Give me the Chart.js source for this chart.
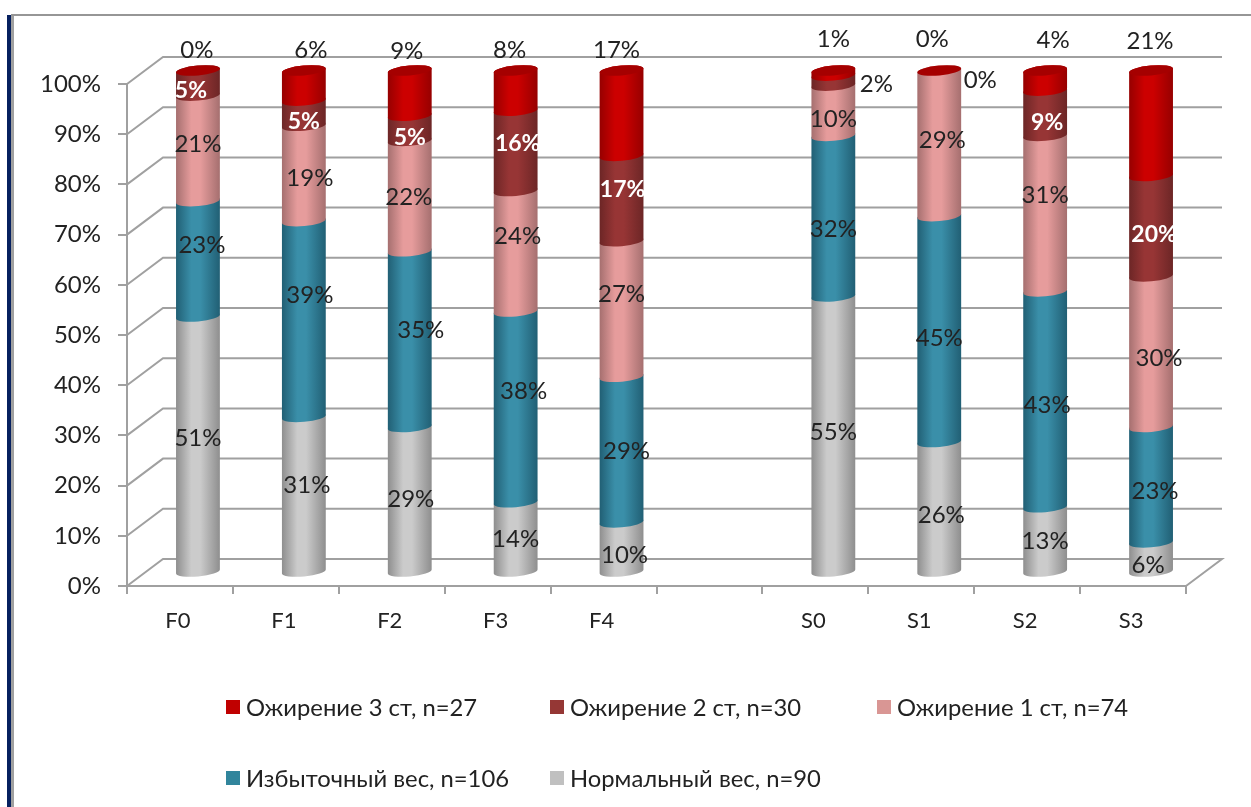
<!DOCTYPE html>
<html lang="ru">
<head>
<meta charset="utf-8">
<title>Индекс массы тела по стадиям F и S</title>
<script src="https://cdn.jsdelivr.net/npm/chart.js@4/dist/chart.umd.min.js"></script>
<style>
    html, body { margin: 0; padding: 0; background: #fff; }
    #page { position: relative; width: 1251px; height: 807px; overflow: hidden; }
    #chart { position: absolute; left: 0; top: 0; }
    .frame { position: absolute; }
    #frame-blue { left: 7px; top: 15px; width: 4px; bottom: 0; background: #06205f; }
    #frame-grey { left: 11px; top: 14px; width: 3px; bottom: 0; background: #a0a0a0; }
    #frame-top { left: 11px; top: 14px; right: 0; height: 2px; background: #969696; }
    .legend-item { position: absolute; font: 23.8px Lato, "Open Sans", sans-serif; color: #222; white-space: nowrap; line-height: 26px; }
    .legend-item i { position: absolute; left: -20px; top: 6px; width: 14px; height: 14px; }
</style>
</head>
<body>
<div id="page">
    <canvas id="chart" width="1251" height="807"></canvas>
    <div class="frame" id="frame-blue"></div>
    <div class="frame" id="frame-grey"></div>
    <div class="frame" id="frame-top"></div>
</div>
<script>
const categories = ['F0', 'F1', 'F2', 'F3', 'F4', '', 'S0', 'S1', 'S2', 'S3'];

const normalWeight = [51, 31, 29, 14, 10, null, 55, 26, 13, 6];
const overweight = [23, 39, 35, 38, 29, null, 32, 45, 43, 23];
const obesity1 = [21, 19, 22, 24, 27, null, 10, 29, 31, 30];
const obesity2 = [5, 5, 5, 16, 17, null, 2, 0, 9, 20];
const obesity3 = [0, 6, 9, 8, 17, null, 1, 0, 4, 21];

const seriesNames = ['Нормальный вес, n=90', 'Избыточный вес, n=106', 'Ожирение 1 ст, n=74', 'Ожирение 2 ст, n=30', 'Ожирение 3 ст, n=27'];
const seriesValues = [normalWeight, overweight, obesity1, obesity2, obesity3];

// цвет: середина цилиндра, край, квадрат в легенде
const bodyColors = ['#cbcbcb', '#3a8fa9', '#e69c9c', '#973535', '#cc0000'];
const edgeColors = ['#8e8e8e', '#215f74', '#a56f6f', '#6c2626', '#960000'];
const keyColors = ['#c0c0c0', '#31859c', '#d99694', '#953735', '#c00000'];
const labelColors = ['#222', '#222', '#222', '#fff', '#222'];
const capColor = '#a50000';

// сдвиг подписей от центра сегмента, подписи в диаграмме расставлены вручную
const labelDx = [
    [0, 3, 1, 0, 3, 0, 0, 2, 0, -3],
    [4, 6, 11, 8, 5, 0, 0, 0, 2, 4],
    [0, 6, -1, 2, 0, 0, 0, 3, 0, 8],
    [-7, 0, 0, 2, 1, 0, 43, 41, 2, 3],
    [-1, 7, -3, -6, -5, 0, 0, -7, 8, -1]
];
const labelDy = [
    [-6, -9, 0, 2, 8, 0, -2, 9, 2, 8],
    [-13, -24, -9, -16, 2, 0, 13, 9, 6, 7],
    [-4, 5, 1, -15, -15, 0, 9, -3, -18, 7],
    [8, 8, 9, -7, -9, 0, 4, 10, 9, 8],
    [-20, -35, -42, -40, -63, 0, -34, -31, -40, -82]
];
// подписи вне столбца остаются тёмными
const darkLabels = { '3:6': true, '3:7': true };

const depthX = 36;
const depthY = -27;
const capRx = 22;
const capRy = 5;
const capTilt = -0.09;
const textFont = 'Lato, "Open Sans", sans-serif';
const gridColor = '#a0a0a0';

const backdrop = {
    id: 'backdrop',
    beforeDatasetsDraw(chart) {
        const { ctx, scales } = chart;
        const left = scales.x.left;
        const right = scales.x.right;
        ctx.save();
        ctx.strokeStyle = gridColor;
        ctx.lineWidth = 2;
        scales.y.ticks.forEach(tick => {
            const y = scales.y.getPixelForValue(tick.value);
            ctx.beginPath();
            ctx.moveTo(left, y);
            ctx.lineTo(left + depthX, y + depthY);
            ctx.lineTo(right + depthX, y + depthY);
            if (tick.value === 0) ctx.lineTo(right, y);
            ctx.stroke();
        });
        ctx.restore();
    }
};

const cylinders = {
    id: 'cylinders',
    beforeDatasetsDraw(chart) {
        const ctx = chart.ctx;
        seriesValues.forEach((values, s) => {
            chart.getDatasetMeta(s).data.forEach((bar, i) => {
                if (values[i] === null || values[i] === 0) return;
                const cx = bar.x + depthX / 2;
                const top = bar.y + depthY / 2;
                const bottom = bar.base + depthY / 2;
                const grad = ctx.createLinearGradient(cx - capRx, 0, cx + capRx, 0);
                grad.addColorStop(0, edgeColors[s]);
                grad.addColorStop(0.35, bodyColors[s]);
                grad.addColorStop(0.55, bodyColors[s]);
                grad.addColorStop(1, edgeColors[s]);
                ctx.fillStyle = grad;
                ctx.beginPath();
                ctx.ellipse(cx, bottom, capRx, capRy, capTilt, 0, Math.PI);
                ctx.ellipse(cx, top, capRx, capRy, capTilt, Math.PI, Math.PI * 2);
                ctx.closePath();
                ctx.fill();
            });
        });
        // верхняя крышка каждого столбца
        chart.getDatasetMeta(4).data.forEach((bar, i) => {
            if (seriesValues[4][i] === null) return;
            ctx.fillStyle = capColor;
            ctx.beginPath();
            ctx.ellipse(bar.x + depthX / 2, bar.y + depthY / 2, capRx, capRy, capTilt, 0, Math.PI * 2);
            ctx.fill();
        });
        return false;
    }
};

// afterDraw, потому что cylinders отменяет стандартную отрисовку столбцов
const valueLabels = {
    id: 'valueLabels',
    afterDraw(chart) {
        const ctx = chart.ctx;
        ctx.save();
        ctx.textAlign = 'center';
        ctx.textBaseline = 'middle';
        seriesValues.forEach((values, s) => {
            chart.getDatasetMeta(s).data.forEach((bar, i) => {
                if (values[i] === null) return;
                const x = bar.x + depthX / 2 + labelDx[s][i];
                const y = (bar.y + bar.base) / 2 + depthY / 2 + labelDy[s][i];
                const color = darkLabels[s + ':' + i] ? '#222' : labelColors[s];
                ctx.font = (color === '#fff' ? 'bold 23px ' : '24px ') + textFont;
                ctx.fillStyle = color;
                ctx.fillText(values[i] + '%', x, y);
            });
        });
        ctx.restore();
    }
};

new Chart(document.getElementById('chart'), {
    type: 'bar',
    data: {
        labels: categories,
        datasets: seriesValues.map((values, s) => ({
            label: seriesNames[s],
            data: values,
            backgroundColor: keyColors[s],
            categoryPercentage: 1,
            barPercentage: 0.415
        }))
    },
    options: {
        responsive: false,
        animation: false,
        layout: { padding: { left: 0, top: 84, right: 65, bottom: 0 } },
        plugins: { legend: { display: false }, tooltip: { enabled: false } },
        scales: {
            x: {
                stacked: true,
                afterFit(scale) { scale.height = 221; },
                border: { color: gridColor, width: 2 },
                grid: { color: gridColor, lineWidth: 2, drawOnChartArea: false, tickLength: 8 },
                ticks: { color: '#222', font: { size: 22, family: textFont }, padding: 14, labelOffset: -2, maxRotation: 0, autoSkip: false }
            },
            y: {
                stacked: true,
                min: 0,
                max: 100,
                afterFit(scale) { scale.width = 127; },
                border: { color: gridColor, width: 2 },
                grid: { color: gridColor, lineWidth: 2, drawOnChartArea: false, tickLength: 9 },
                ticks: { stepSize: 10, color: '#222', font: { size: 24, family: textFont }, padding: 17, callback: v => v + '%' }
            }
        }
    },
    plugins: [backdrop, cylinders, valueLabels]
});

// легенда в две строки, от верхнего сегмента к нижнему
const legendSpots = [[246, 694], [570, 694], [897, 694], [246, 765], [570, 765]];
const page = document.getElementById('page');
[4, 3, 2, 1, 0].forEach((s, n) => {
    const item = document.createElement('div');
    item.className = 'legend-item';
    item.style.left = legendSpots[n][0] + 'px';
    item.style.top = legendSpots[n][1] + 'px';
    item.innerHTML = `<i style="background:${keyColors[s]}"></i>${seriesNames[s]}`;
    page.appendChild(item);
});
</script>
</body>
</html>
